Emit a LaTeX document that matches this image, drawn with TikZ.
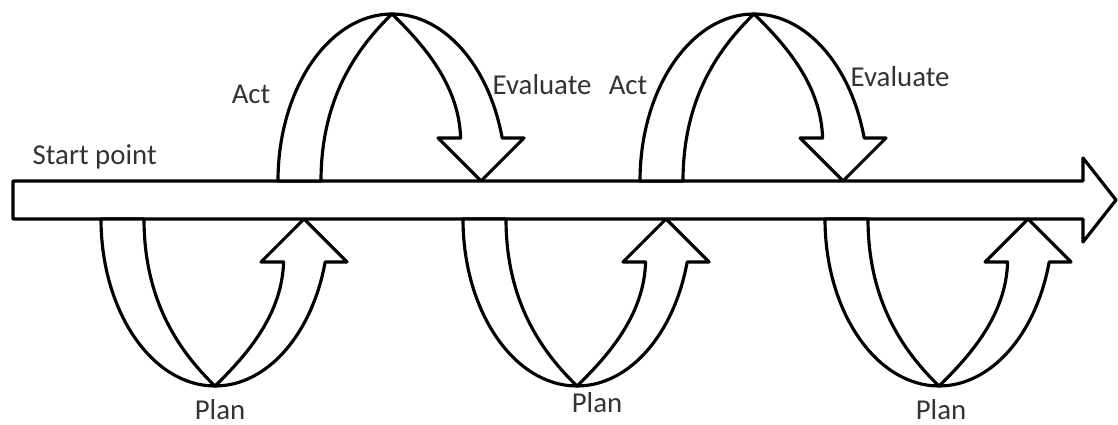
\documentclass[tikz,border=0pt]{standalone}
\usepackage{fontspec}
\setmainfont{Carlito}
\usetikzlibrary{calc}
\definecolor{labeltext}{gray}{0.2}

\tikzset{
  ribbon/.style={draw, fill=white, line width=0.9pt, line join=round},
  lbl/.style={inner sep=0pt, text=labeltext}
}

\begin{document}
\begin{tikzpicture}[font=\fontsize{8.2}{10}\selectfont]
\useasboundingbox (0,0) rectangle (11.18,4.25);
% main arrow
\draw[ribbon] (0.13,2.06) -- (10.83,2.06) -- (10.83,1.83) -- (11.16,2.25) -- (10.83,2.67) -- (10.83,2.44) -- (0.13,2.44) -- cycle;
% loops below the arrow (plan) and above it (act, evaluate)
\foreach \cx/\cy/\flip in {2.15/2.06/1, 5.77/2.06/1, 9.39/2.06/1, 3.92/2.44/-1, 7.54/2.44/-1} {
  \begin{scope}[shift={(\cx,\cy)}, yscale=\flip]
    \draw[ribbon] (-1.14,0) arc[start angle=180, end angle=270, x radius=1.14, y radius=1.67]
      .. controls (-0.33,-1.35) and (-0.71,-0.85) .. (-0.71,0) -- cycle;
    \draw[ribbon] (0,-1.67) arc[start angle=270, end angle=345.1, x radius=1.14, y radius=1.67]
      -- (1.32,-0.43) -- (0.89,0) -- (0.46,-0.43) -- (0.686,-0.43)
      .. controls (0.67,-0.95) and (0.33,-1.35) .. (0,-1.67) -- cycle;
  \end{scope}
}
\node[lbl, anchor=base west] (start) at (0.32,2.60) {Start point};
\node[lbl, anchor=base east] (act1) at (2.71,3.21) {Act};
\node[lbl, anchor=base west] (eval1) at (4.92,3.30) {Evaluate};
\node[lbl, anchor=base east] (act2) at (6.48,3.30) {Act};
\node[lbl, anchor=base west] (eval2) at (8.50,3.38) {Evaluate};
\node[lbl, anchor=base] (plan1) at (2.20,0.05) {Plan};
\node[lbl, anchor=base] (plan2) at (5.97,0.12) {Plan};
\node[lbl, anchor=base] (plan3) at (9.41,0.05) {Plan};
\end{tikzpicture}
\end{document}
